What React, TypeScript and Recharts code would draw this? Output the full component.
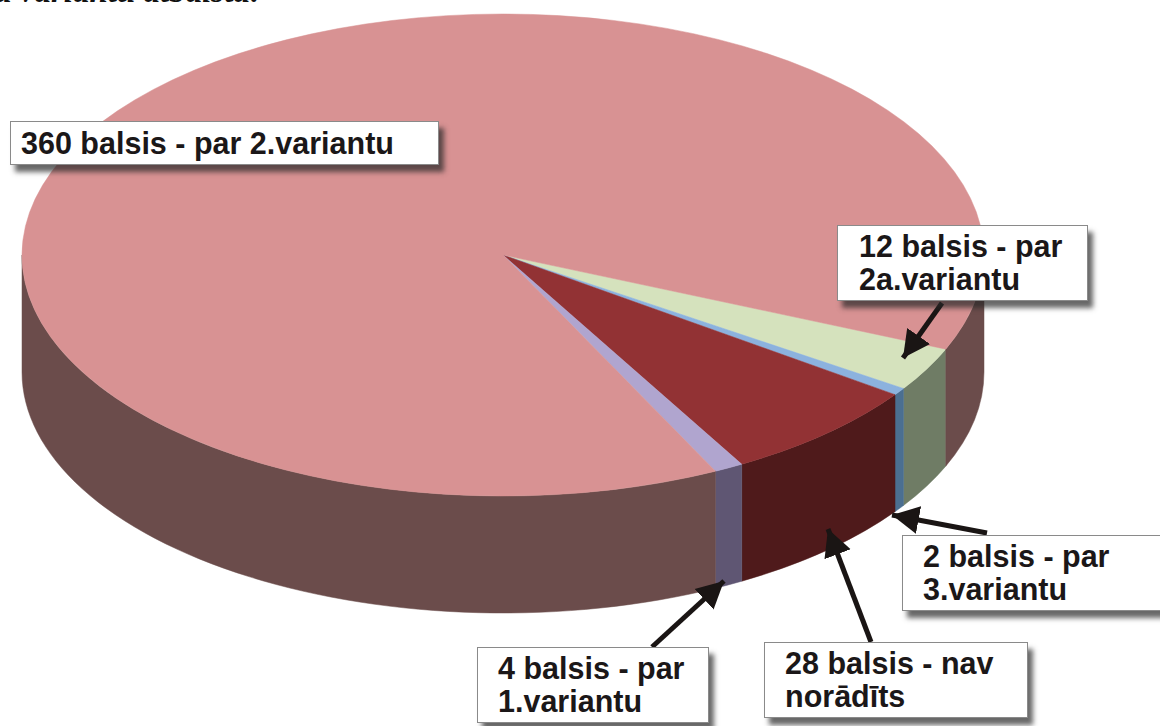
import React from 'react';
import { PieChart, Pie, Cell } from 'recharts';

const categories = ['2a.variants', '3.variants', 'nav norādīts', '1.variants', '2.variants'];
const votes = [12, 2, 28, 4, 360];
const topColors = ['#d5e2bd', '#8cb2de', '#923234', '#b0a5cf', '#d89293'];
const wallColors = ['#6f7c65', '#4b6f91', '#4f1a1b', '#5f5673', '#6b4c4b'];

const data = categories.map((name, i) => ({ name, value: votes[i] }));

const W = 1160;
const H = 726;
const RX = 481;
const RY = 241;
const DEPTH = 117;
const RAD = Math.PI / 180;

const callouts = [
  { lines: ['360 balsis - par 2.variantu'], left: 10, top: 121, width: 429, height: 44, pad: 10 },
  { lines: ['12 balsis - par', '2a.variantu'], left: 837, top: 225, width: 251, height: 76, pad: 21 },
  { lines: ['2 balsis - par', '3.variantu'], left: 902, top: 535, width: 270, height: 76, pad: 20 },
  { lines: ['28 balsis - nav', 'norādīts'], left: 764, top: 642, width: 264, height: 76, pad: 20 },
  { lines: ['4 balsis - par', '1.variantu'], left: 477, top: 647, width: 232, height: 76, pad: 20 },
];

const arrows = [
  { x1: 942, y1: 303, x2: 903, y2: 358 },
  { x1: 987, y1: 533, x2: 892, y2: 515 },
  { x1: 871, y1: 642, x2: 828, y2: 529 },
  { x1: 652, y1: 647, x2: 724, y2: 581 },
];

// flattened slice with its front wall, Recharts only hands over the angles
const Slice3D = (props: any) => {
  const { cx, cy, startAngle, endAngle, fill } = props;
  const px = (a: number) => cx + RX * Math.cos(a * RAD);
  const py = (a: number) => cy - RY * Math.sin(a * RAD);
  const hi = Math.max(startAngle, endAngle);
  const lo = Math.min(startAngle, endAngle);
  const large = hi - lo > 180 ? 1 : 0;
  const top = `M${cx},${cy} L${px(hi)},${py(hi)} A${RX},${RY} 0 ${large} 1 ${px(lo)},${py(lo)} Z`;

  const walls: string[] = [];
  [0, -360].forEach((k) => {
    const a = Math.min(hi, k);
    const b = Math.max(lo, k - 180);
    if (a > b) {
      walls.push(
        `M${px(a)},${py(a)} A${RX},${RY} 0 0 1 ${px(b)},${py(b)} L${px(b)},${py(b) + DEPTH} A${RX},${RY} 0 0 0 ${px(a)},${py(a) + DEPTH} Z`
      );
    }
  });
  const wall = wallColors[topColors.indexOf(fill)];

  return (
    <g>
      {walls.map((d, i) => (
        <path key={i} d={d} fill={wall} stroke={wall} strokeWidth={0.5} />
      ))}
      <path d={top} fill={fill} stroke={fill} strokeWidth={0.5} />
    </g>
  );
};

export default function App() {
  return (
    <div style={{ position: 'absolute', left: 0, top: 0, width: W, height: H, overflow: 'hidden', background: '#fff' }}>
      <PieChart
        width={W}
        height={H}
        margin={{ top: 0, right: 0, bottom: 0, left: 0 }}
        style={{ position: 'absolute', left: 0, top: 0 }}
      >
        <Pie
          data={data}
          dataKey="value"
          cx={503}
          cy={255}
          outerRadius={RX}
          startAngle={-23}
          endAngle={-383}
          stroke="none"
          shape={Slice3D}
          isAnimationActive={false}
        >
          {data.map((entry, index) => (
            <Cell key={entry.name} fill={topColors[index]} />
          ))}
        </Pie>
      </PieChart>

      <svg width={W} height={H} style={{ position: 'absolute', left: 0, top: 0 }}>
        <defs>
          <marker id="head" markerUnits="userSpaceOnUse" markerWidth={30} markerHeight={30} refX={27} refY={15} orient="auto">
            <path d="M0,1 L27,15 L0,29 Z" fill="#1a1514" />
          </marker>
        </defs>
        {arrows.map((a, i) => (
          <line key={i} x1={a.x1} y1={a.y1} x2={a.x2} y2={a.y2} stroke="#1a1514" strokeWidth={5} markerEnd="url(#head)" />
        ))}
      </svg>

      {callouts.map((c) => (
        <div
          key={c.lines[0]}
          style={{
            position: 'absolute',
            left: c.left,
            top: c.top,
            width: c.width,
            height: c.height,
            boxSizing: 'border-box',
            background: '#fff',
            border: '1px solid #8a8a8a',
            boxShadow: '5px 7px 5px rgba(40,40,40,0.7)',
            padding: `${c.lines.length > 1 ? 4 : 5}px 0 0 ${c.pad}px`,
            fontFamily: '"Liberation Sans", Arial, sans-serif',
            fontWeight: 700,
            fontSize: 30.5,
            lineHeight: '33px',
            color: '#1b1718',
            whiteSpace: 'nowrap',
          }}
        >
          {c.lines.map((l) => (
            <div key={l}>{l}</div>
          ))}
        </div>
      ))}

      <div
        style={{
          position: 'absolute',
          left: -5,
          top: -27,
          fontFamily: '"Liberation Serif", serif',
          fontStyle: 'italic',
          fontWeight: 700,
          fontSize: 33,
          lineHeight: '36px',
          color: '#111',
          whiteSpace: 'nowrap',
        }}
      >
        a variantu atbalsta:
      </div>
    </div>
  );
}
